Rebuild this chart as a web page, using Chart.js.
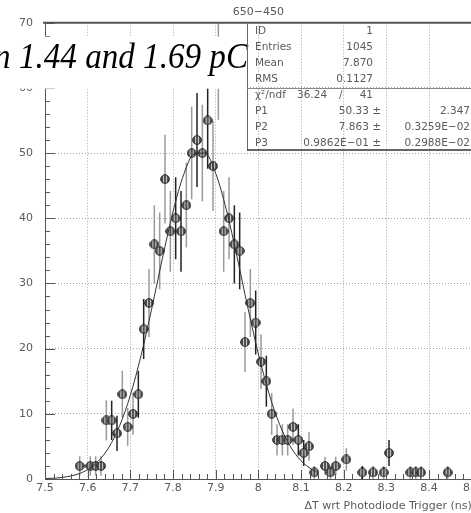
<!DOCTYPE html>
<html>
<head>
<meta charset="utf-8">
<script src="https://cdn.jsdelivr.net/npm/chart.js@4.4.1/dist/chart.umd.min.js"></script>
<style>
    html, body { margin: 0; padding: 0; background: #fff; overflow: hidden; }
    #wrap { width: 490px; height: 513px; }
</style>
</head>
<body>
<div id="wrap"><canvas id="timing"></canvas></div>
<script>

// ================= DATA =================

// histogram bins (ns) and entries per bin
const binCentres = [
    7.58125, 7.60625, 7.61875, 7.63125, 7.64375, 7.65625, 7.66875, 7.68125,
    7.69375, 7.70625, 7.71875, 7.73125, 7.74375, 7.75625, 7.76875, 7.78125,
    7.79375, 7.80625, 7.81875, 7.83125, 7.84375, 7.85625, 7.86875, 7.88125,
    7.89375, 7.90625, 7.91875, 7.93125, 7.94375, 7.95625, 7.96875, 7.98125,
    7.99375, 8.00625, 8.01875, 8.03125, 8.04375, 8.05625, 8.06875, 8.08125,
    8.09375, 8.10625, 8.11875, 8.13125, 8.15625, 8.16875, 8.18125, 8.20625,
    8.24375, 8.26875, 8.29375, 8.30625, 8.35625, 8.36875, 8.38125, 8.44375
];

const entries = [
    2, 2, 2, 2, 9, 9, 7, 13,
    8, 10, 13, 23, 27, 36, 35, 46,
    38, 40, 38, 42, 50, 52, 50, 55,
    48, 63, 38, 40, 36, 35, 21, 27,
    24, 18, 15, 10, 6, 6, 6, 8,
    6, 4, 5, 1, 2, 1, 2, 3,
    1, 1, 1, 4, 1, 1, 1, 1
];

const entryErrors = [
    1.5, 1.5, 1.5, 1.5, 3.1, 3.0, 2.7, 3.6,
    2.9, 3.2, 3.6, 4.6, 5.2, 6.0, 5.9, 6.8,
    6.2, 6.3, 6.2, 6.5, 7.1, 7.2, 7.4, 7.4,
    6.9, 7.9, 6.2, 6.3, 6.0, 5.9, 4.6, 5.2,
    4.9, 4.2, 3.9, 3.2, 2.4, 2.4, 2.4, 2.8,
    2.4, 2.0, 2.2, 1.0, 1.4, 1.0, 1.4, 1.7,
    1.0, 1.0, 1.0, 2.0, 1.0, 1.0, 1.0, 1.0
];

// fitted curve
const fitX = [
    7.500, 7.525, 7.550, 7.575, 7.600, 7.625, 7.650, 7.675, 7.700, 7.725,
    7.750, 7.775, 7.800, 7.825, 7.850, 7.875, 7.900, 7.925, 7.950, 7.975,
    8.000, 8.025, 8.050, 8.075, 8.100, 8.125, 8.135
];

const fitY = [
    0.06, 0.14, 0.33, 0.71, 1.44, 2.74, 4.89, 8.18, 12.84, 18.91,
    26.1, 33.8, 41.0, 46.7, 49.9, 50.0, 46.9, 41.3, 34.1, 26.4,
    19.2, 13.1, 8.34, 4.99, 2.80, 1.48, 1.12
];

const xTickLabels = ["7.5", "7.6", "7.7", "7.8", "7.9", "8", "8.1", "8.2", "8.3", "8.4", "8.5"];

const statRows = [
    ["ID", "1"],
    ["Entries", "1045"],
    ["Mean", "7.870"],
    ["RMS", "0.1127"]
];

const fitRows = [
    ["P1", "50.33 \u00b1", "2.347"],
    ["P2", "7.863 \u00b1", "0.3259E\u221202"],
    ["P3", "0.9862E\u221201 \u00b1", "0.2988E\u221202"]
];

// bins whose error bars are drawn dark
const darkBars = [5, 6, 10, 11, 17, 18, 21, 23, 28, 29, 32, 34, 40, 41, 48, 51];

// ================= STYLE =================

const FONT = "DejaVu Sans";
const TEXT = "#5a5a5a";

Chart.defaults.font.family = FONT;
Chart.defaults.font.size = 11;
Chart.defaults.color = TEXT;

// hatched round marker
function makeMarker() {
    const c = document.createElement("canvas");
    c.width = 10;
    c.height = 10;
    const g = c.getContext("2d");
    g.beginPath();
    g.arc(5, 5, 4.3, 0, Math.PI * 2);
    g.fillStyle = "#505050";
    g.fill();
    g.save();
    g.clip();
    g.strokeStyle = "rgba(215,215,215,0.9)";
    g.lineWidth = 1;
    [3.5, 6.5].forEach(x => {
        g.beginPath();
        g.moveTo(x, 0);
        g.lineTo(x, 10);
        g.stroke();
    });
    g.restore();
    g.beginPath();
    g.arc(5, 5, 4.3, 0, Math.PI * 2);
    g.strokeStyle = "#1e1e1e";
    g.lineWidth = 1;
    g.stroke();
    return c;
}

// ================= PLUGINS =================

const errorBars = {
    id: "errorBars",
    beforeDatasetsDraw(chart) {
        const { ctx, chartArea, scales: { x, y } } = chart;
        ctx.save();
        ctx.beginPath();
        ctx.rect(chartArea.left, chartArea.top, chartArea.width, chartArea.height);
        ctx.clip();
        ctx.lineWidth = 1.5;
        binCentres.forEach((c, i) => {
            const px = x.getPixelForValue(c);
            ctx.strokeStyle = darkBars.includes(i) ? "#222" : "#9a9a9a";
            ctx.beginPath();
            ctx.moveTo(px, y.getPixelForValue(entries[i] - entryErrors[i]));
            ctx.lineTo(px, y.getPixelForValue(entries[i] + entryErrors[i]));
            ctx.stroke();
        });
        ctx.restore();
    }
};

const frameAndBoxes = {
    id: "frameAndBoxes",
    afterDraw(chart) {
        const { ctx, chartArea, scales: { x, y } } = chart;
        const { left, top, bottom } = chartArea;
        const W = chart.width;

        ctx.save();

        // inner tick marks
        ctx.strokeStyle = "#555";
        ctx.lineWidth = 1;
        for (let v = 0; v <= 70; v += 2) {
            const py = Math.round(y.getPixelForValue(v)) + 0.5;
            const len = v % 10 === 0 ? 10 : 5;
            ctx.beginPath();
            ctx.moveTo(left, py);
            ctx.lineTo(left + len, py);
            ctx.stroke();
        }
        for (let k = 0; k <= 50; k++) {
            const px = Math.round(x.getPixelForValue(7.5 + k * 0.02)) + 0.5;
            const len = k % 5 === 0 ? 9 : 5;
            ctx.beginPath();
            ctx.moveTo(px, bottom);
            ctx.lineTo(px, bottom - len);
            ctx.stroke();
        }

        // top frame
        ctx.strokeStyle = "#555";
        ctx.lineWidth = 2;
        ctx.beginPath();
        ctx.moveTo(left - 2, top);
        ctx.lineTo(W, top);
        ctx.stroke();

        // histogram title
        ctx.fillStyle = TEXT;
        ctx.font = "11px " + FONT;
        ctx.textAlign = "center";
        ctx.textBaseline = "middle";
        ctx.fillText("650\u2212450", (chartArea.left + chartArea.right) / 2, 12.6);

        // charge cut caption
        ctx.fillStyle = "#fff";
        ctx.fillRect(0, top + 14, 246, 52);
        ctx.save();
        ctx.translate(248, top + 45.6);
        ctx.scale(0.92, 1);
        ctx.fillStyle = "#000";
        ctx.font = "italic 36px 'Liberation Serif'";
        ctx.textAlign = "right";
        ctx.textBaseline = "alphabetic";
        ctx.fillText("between 1.44 and 1.69 pC", 0, 0);
        ctx.restore();

        // statistics box
        const bx = 247;
        const fitTop = top + 65.3;
        const boxBottom = top + 127.3;

        ctx.lineWidth = 1;
        ctx.strokeStyle = "#666";
        ctx.beginPath();
        ctx.moveTo(bx + 0.5, top);
        ctx.lineTo(bx + 0.5, boxBottom);
        ctx.stroke();

        ctx.strokeStyle = "#8a8a8a";
        ctx.beginPath();
        ctx.moveTo(bx, Math.round(fitTop) + 0.5);
        ctx.lineTo(W, Math.round(fitTop) + 0.5);
        ctx.stroke();

        ctx.strokeStyle = "#333";
        ctx.lineWidth = 1.5;
        ctx.beginPath();
        ctx.moveTo(bx, boxBottom);
        ctx.lineTo(W, boxBottom);
        ctx.stroke();

        ctx.fillStyle = TEXT;
        ctx.font = "10.5px " + FONT;
        ctx.textBaseline = "middle";
        const rowY = i => top + 8.3 + i * 16;

        statRows.forEach((r, i) => {
            ctx.textAlign = "left";
            ctx.fillText(r[0], 255, rowY(i));
            ctx.textAlign = "right";
            ctx.fillText(r[1], 373, rowY(i));
        });

        ctx.textAlign = "left";
        ctx.fillText("\u03c7\u00b2/ndf", 255, rowY(4));
        ctx.fillText("36.24", 297, rowY(4));
        ctx.fillText("/", 339, rowY(4));
        ctx.textAlign = "right";
        ctx.fillText("41", 373, rowY(4));

        fitRows.forEach((r, i) => {
            ctx.textAlign = "left";
            ctx.fillText(r[0], 255, rowY(5 + i));
            ctx.textAlign = "right";
            ctx.fillText(r[1], 381, rowY(5 + i));
            ctx.fillText(r[2], 470, rowY(5 + i));
        });

        ctx.restore();
    }
};

// ================= CHART =================

new Chart(document.getElementById("timing"), {
    data: {
        datasets: [
            {
                type: "scatter",
                label: "fit",
                data: fitX.map((x, i) => ({ x: x, y: fitY[i] })),
                showLine: true,
                borderColor: "#333",
                borderWidth: 1,
                pointRadius: 0,
                cubicInterpolationMode: "monotone",
                order: 0
            },
            {
                type: "scatter",
                label: "entries",
                data: binCentres.map((x, i) => ({ x: x, y: entries[i] })),
                pointStyle: makeMarker(),
                pointRadius: 5,
                order: 1
            }
        ]
    },
    options: {
        responsive: true,
        maintainAspectRatio: false,
        animation: false,
        devicePixelRatio: 1,
        layout: {
            padding: { top: 22.7, right: 18.3, left: 0, bottom: 0 }
        },
        plugins: {
            legend: { display: false },
            tooltip: { enabled: false },
            title: { display: false }
        },
        scales: {
            x: {
                type: "linear",
                min: 7.5,
                max: 8.5,
                ticks: {
                    stepSize: 0.1,
                    autoSkip: false,
                    maxRotation: 0,
                    padding: 3,
                    color: TEXT,
                    callback: (v, i) => xTickLabels[i]
                },
                grid: { color: "#a5a5a5", lineWidth: 1, drawTicks: false },
                border: { display: true, color: "#555", width: 1, dash: [1, 2] },
                title: {
                    display: true,
                    text: "\u0394T wrt Photodiode Trigger (ns)",
                    align: "end",
                    color: TEXT,
                    font: { size: 11 },
                    padding: { top: 0, bottom: 0 }
                },
                afterFit: s => { s.height = 34; }
            },
            y: {
                min: 0,
                max: 70,
                ticks: { stepSize: 10, padding: 12, color: TEXT },
                grid: { color: "#a5a5a5", lineWidth: 1, drawTicks: false },
                border: { display: true, color: "#555", width: 1, dash: [1, 2] },
                afterFit: s => { s.width = 45; }
            }
        }
    },
    plugins: [errorBars, frameAndBoxes]
});

</script>
</body>
</html>
